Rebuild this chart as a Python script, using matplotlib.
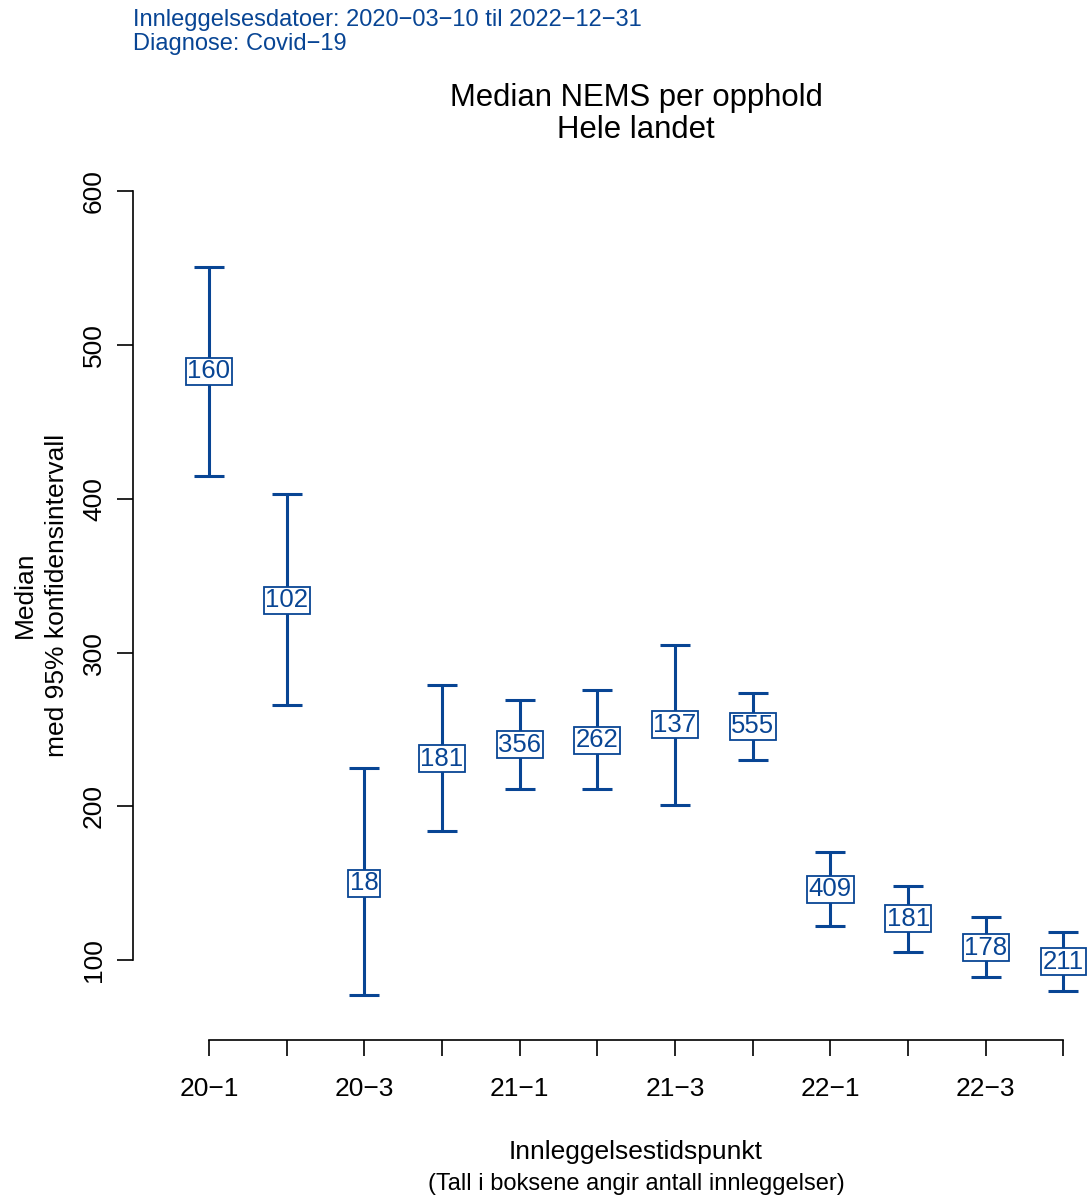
import matplotlib
matplotlib.use("Agg")
import matplotlib.pyplot as plt
import numpy as np

plt.rcParams["font.family"] = ["Liberation Sans", "DejaVu Sans"]

# verdier lest av figuren
perioder = ["20−1", "20−2", "20−3", "20−4", "21−1", "21−2",
            "21−3", "21−4", "22−1", "22−2", "22−3", "22−4"]
median = [483, 334, 150, 231, 240, 243, 253, 252, 146, 127, 108, 99]
ki_nedre = [415, 266, 77, 184, 211, 211, 201, 230, 122, 105, 89, 80]
ki_ovre = [551, 403, 225, 279, 269, 276, 305, 274, 170, 148, 128, 118]
antall = [160, 102, 18, 181, 356, 262, 137, 555, 409, 181, 178, 211]

blaa = "#084594"

fig = plt.figure(figsize=(10.89, 12), dpi=100)
ax = fig.add_axes([0.1221, 0.1333, 0.878, 0.72])

x = np.arange(1, len(perioder) + 1)
med = np.array(median)
yerr = [med - np.array(ki_nedre), np.array(ki_ovre) - med]
ax.errorbar(x, med, yerr=yerr, fmt="none", ecolor=blaa, elinewidth=2.2,
            capsize=10.5, capthick=2.2)

for xi, m, n in zip(x, median, antall):
    ax.text(xi, m, str(n), ha="center", va="center", color=blaa, fontsize=18.5,
            bbox=dict(boxstyle="square,pad=0.06", fc="white", ec=blaa, lw=1.3))

ax.set_xlim(0.022, 12.33)
ax.set_ylim(48, 610)

ax.set_yticks([100, 200, 300, 400, 500, 600])
ax.set_yticklabels(["100", "200", "300", "400", "500", "600"],
                   rotation=90, va="center", fontsize=19)
ax.set_xticks(x)
ax.set_xticklabels([p if i % 2 == 0 else "" for i, p in enumerate(perioder)],
                   fontsize=19)

for s in ["top", "right"]:
    ax.spines[s].set_visible(False)
ax.spines["left"].set_bounds(100, 600)
ax.spines["bottom"].set_bounds(1, 12)
for s in ["left", "bottom"]:
    ax.spines[s].set_linewidth(1.2)
ax.tick_params(axis="y", length=11.5, width=1.2, pad=8)
ax.tick_params(axis="x", length=11.5, width=1.2, pad=15)
ax.patch.set_visible(False)

fig.text(133 / 1089, 1 - 32 / 1200,
         "Innleggelsesdatoer: 2020−03−10 til 2022−12−31\nDiagnose: Covid−19",
         color=blaa, fontsize=17, ha="left", va="center", linespacing=1.15)
fig.text(636 / 1089, 1 - 114 / 1200, "Median NEMS per opphold\nHele landet",
         fontsize=22.4, ha="center", va="center", linespacing=1.1)
fig.text(636 / 1089, 1 - 1152 / 1200, "Innleggelsestidspunkt",
         fontsize=19, ha="center", va="center")
fig.text(636 / 1089, 1 - 1184 / 1200, "(Tall i boksene angir antall innleggelser)",
         fontsize=17, ha="center", va="center")
fig.text(41 / 1089, 1 - 595 / 1200, "Median\nmed 95% konfidensintervall",
         fontsize=19, ha="center", va="center", rotation=90, linespacing=1.4)

fig.savefig("out.png", dpi=100)
